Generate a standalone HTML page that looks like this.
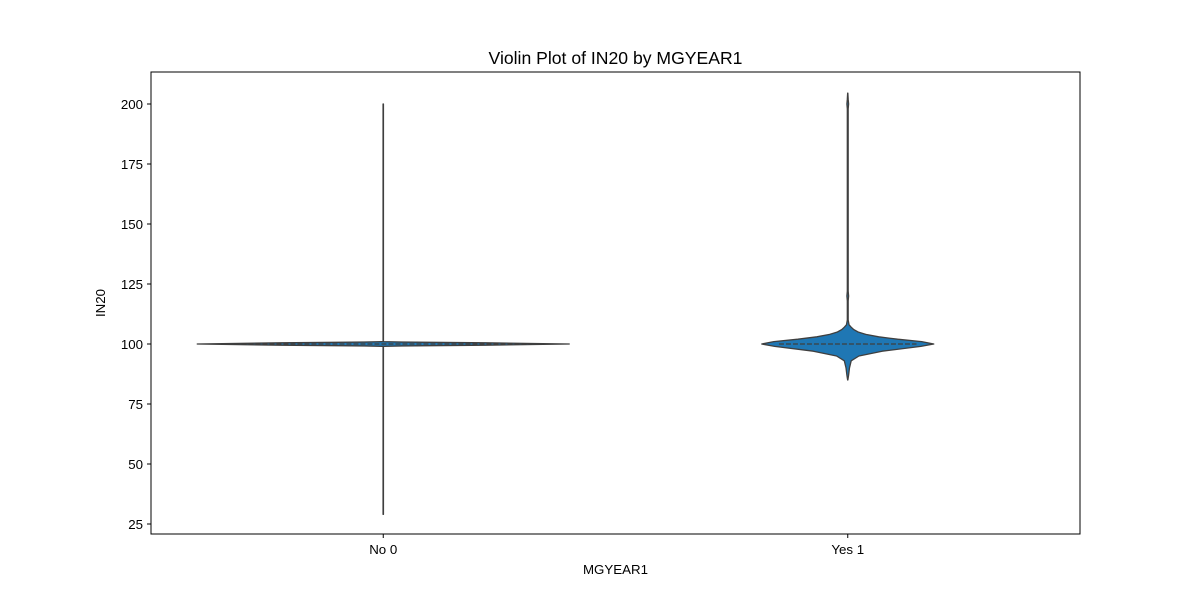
<!DOCTYPE html>
<html><head><meta charset="utf-8">
<style>
body{margin:0;background:#fff;font-family:"Liberation Sans","DejaVu Sans",sans-serif;}
svg text{font-family:"Liberation Sans","DejaVu Sans",sans-serif;font-size:13.3px;fill:#000}
</style></head>
<body>
<svg id="chart" width="1200" height="600" xmlns="http://www.w3.org/2000/svg">
<rect x="0" y="0" width="1200" height="600" fill="#fff"/>
<text x="615.5" y="64" text-anchor="middle" style="font-size:17.6px">Violin Plot of IN20 by MGYEAR1</text>
<g id="plot"></g>
<rect x="151" y="72" width="929" height="462" fill="none" stroke="#000" stroke-width="1"/>
<text x="615.5" y="574" text-anchor="middle">MGYEAR1</text>
<text transform="translate(105,303) rotate(-90)" text-anchor="middle">IN20</text>
</svg>
<script>
const categories = ["No 0", "Yes 1"];
const yTicks = [25, 50, 75, 100, 125, 150, 175, 200];
const noValues = [29, 99, 99.2, 99.5, 100, 100.5, 100.8, 101, 200];
const noDensity = [0.001, 0.001, 0.1, 0.55, 1.0, 0.55, 0.1, 0.001, 0.001];
const yesValues = [85, 87, 90, 93, 95, 97, 99, 100, 101, 102, 103, 104, 105, 106, 107, 108, 110, 118, 120, 122, 125, 198, 200, 202, 204.5];
const yesDensity = [0, 0.01, 0.02, 0.04, 0.13, 0.4, 0.85, 1.0, 0.86, 0.58, 0.36, 0.21, 0.12, 0.07, 0.04, 0.015, 0.005, 0.005, 0.01, 0.005, 0.005, 0.005, 0.01, 0.005, 0];
const medians = [100, 100];
const maxHalf = [186, 86];

const NS = "http://www.w3.org/2000/svg";
const yScale = v => 104 + (200 - v) * 2.4;
const xScale = i => 151 + 929 * (0.5 + i) / categories.length;
const svg = document.getElementById('chart');
const plot = document.getElementById('plot');

yTicks.forEach(t => {
  const y = yScale(t);
  const l = document.createElementNS(NS, 'line');
  
  
  l.setAttribute('x1', 151); l.setAttribute('x2', 147);
  l.setAttribute('y1', y); l.setAttribute('y2', y);
  l.setAttribute('stroke', '#000');
  svg.appendChild(l);
  const tx = document.createElementNS(NS, 'text');
  
  
  tx.setAttribute('x', 143); tx.setAttribute('y', y + 5);
  tx.setAttribute('text-anchor', 'end');
  tx.textContent = t;
  svg.appendChild(tx);
});

categories.forEach((c, i) => {
  const x = xScale(i);
  const l = document.createElementNS(NS, 'line');
  
  
  l.setAttribute('x1', x); l.setAttribute('x2', x);
  l.setAttribute('y1', 534); l.setAttribute('y2', 538);
  l.setAttribute('stroke', '#000');
  svg.appendChild(l);
  const tx = document.createElementNS(NS, 'text');
  
  
  tx.setAttribute('x', x); tx.setAttribute('y', 554);
  tx.setAttribute('text-anchor', 'middle');
  tx.textContent = c;
  svg.appendChild(tx);
});

function drawViolin(i, vals, dens) {
  const cx = xScale(i);
  let right = [], left = [];
  vals.forEach((v, k) => {
    const w = Math.max(dens[k] * maxHalf[i], 0.1);
    right.push((cx + w) + ',' + yScale(v));
    left.unshift((cx - w) + ',' + yScale(v));
  });
  const p = document.createElementNS(NS, 'polygon');
  
  
  p.setAttribute('points', right.concat(left).join(' '));
  p.setAttribute('fill', '#1f77b4');
  p.setAttribute('stroke', '#3f3f3f');
  p.setAttribute('stroke-width', '1.3');
  p.setAttribute('stroke-linejoin', 'round');
  plot.appendChild(p);
  const m = document.createElementNS(NS, 'line');
  
  
  m.setAttribute('x1', cx - maxHalf[i] * 0.8); m.setAttribute('x2', cx + maxHalf[i] * 0.8);
  m.setAttribute('y1', yScale(medians[i])); m.setAttribute('y2', yScale(medians[i]));
  m.setAttribute('stroke', '#3f3f3f');
  m.setAttribute('stroke-width', '1.2');
  m.setAttribute('stroke-dasharray', '5 2');
  plot.appendChild(m);
}
drawViolin(0, noValues, noDensity);
drawViolin(1, yesValues, yesDensity);
</script>
</body></html>
